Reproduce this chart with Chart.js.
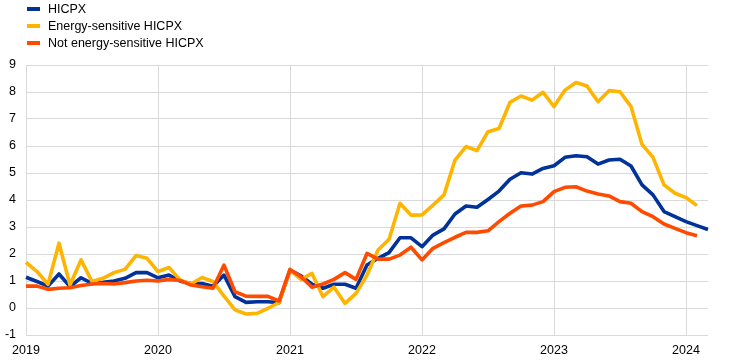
<!DOCTYPE html>
<html>
<head>
<meta charset="utf-8">
<script src="https://cdn.jsdelivr.net/npm/chart.js@4/dist/chart.umd.min.js"></script>
<style>
  html, body { margin: 0; padding: 0; background: #fff; }
  #wrap { position: relative; width: 744px; height: 362px; }
  #legend { position: absolute; left: 27px; top: 0px; font-family: "Liberation Sans", Arial, sans-serif; font-size: 12.5px; color: #000; }
  .item { display: flex; align-items: center; height: 17px; }
  .swatch { width: 13px; height: 4px; margin-right: 8px; }
</style>
</head>
<body>
<div id="wrap">
  <canvas id="c" width="744" height="362"></canvas>
  <div id="legend"></div>
</div>
<script>
const years = ['2019', '2020', '2021', '2022', '2023', '2024'];
const seriesNames = ['HICPX', 'Energy-sensitive HICPX', 'Not energy-sensitive HICPX'];
const seriesColors = ['#003299', '#FFB400', '#FF4B00'];

// Monthly, Jan 2019 - Mar 2024
const hicpx = [
  1.14, 0.98, 0.81, 1.26, 0.79, 1.12, 0.91, 0.95, 1.00, 1.10, 1.31, 1.31,
  1.12, 1.22, 1.00, 0.90, 0.91, 0.81, 1.22, 0.42, 0.21, 0.23, 0.23, 0.20,
  1.40, 1.19, 0.88, 0.73, 0.88, 0.88, 0.73, 1.59, 1.84, 2.05, 2.60, 2.60,
  2.27, 2.70, 2.93, 3.48, 3.78, 3.73, 4.02, 4.33, 4.77, 5.01, 4.96, 5.17,
  5.27, 5.58, 5.64, 5.60, 5.33, 5.48, 5.51, 5.26, 4.56, 4.19, 3.57, 3.38,
  3.20, 3.05, 2.91
];
const energySensitive = [
  1.69, 1.35, 0.88, 2.40, 0.85, 1.78, 0.98, 1.10, 1.31, 1.43, 1.94, 1.84,
  1.35, 1.50, 1.04, 0.89, 1.13, 0.98, 0.44, -0.07, -0.22, -0.20, -0.01, 0.20,
  1.40, 1.06, 1.28, 0.42, 0.77, 0.17, 0.54, 1.22, 2.15, 2.54, 3.88, 3.44,
  3.45, 3.81, 4.19, 5.48, 5.98, 5.83, 6.53, 6.65, 7.62, 7.85, 7.70, 7.99,
  7.46, 8.07, 8.35, 8.22, 7.64, 8.05, 8.01, 7.46, 6.06, 5.58, 4.56, 4.25,
  4.09, 3.79
];
const notEnergySensitive = [
  0.81, 0.81, 0.69, 0.73, 0.75, 0.83, 0.89, 0.91, 0.89, 0.94, 1.00, 1.03,
  1.00, 1.06, 1.02, 0.85, 0.79, 0.73, 1.59, 0.60, 0.44, 0.43, 0.43, 0.26,
  1.43, 1.16, 0.77, 0.89, 1.06, 1.31, 1.06, 2.02, 1.81, 1.81, 1.96, 2.25,
  1.78, 2.21, 2.42, 2.62, 2.80, 2.80, 2.86, 3.20, 3.51, 3.78, 3.81, 3.94,
  4.31, 4.47, 4.49, 4.33, 4.22, 4.15, 3.94, 3.88, 3.57, 3.38, 3.11, 2.95,
  2.79, 2.68
];

// category labels: one per month
const labels = [];
years.forEach(y => {
  for (let m = 1; m <= 12; m++) {
    if (y === '2024' && m > 3) break;
    labels.push(y + '-' + String(m).padStart(2, '0'));
  }
});

const allSeries = [hicpx, energySensitive, notEnergySensitive];
const drawOrder = [3, 2, 1];

// HTML legend
const leg = document.getElementById('legend');
seriesNames.forEach((n, i) => {
  const d = document.createElement('div'); d.className = 'item';
  const s = document.createElement('span'); s.className = 'swatch'; s.style.background = seriesColors[i];
  const t = document.createElement('span'); t.textContent = n;
  d.appendChild(s); d.appendChild(t); leg.appendChild(d);
});

const FONT = { family: '"Liberation Sans", Arial, sans-serif', size: 12.5 };

new Chart(document.getElementById('c'), {
  type: 'line',
  data: {
    labels: labels,
    datasets: seriesNames.map((n, i) => ({
      label: n,
      data: allSeries[i],
      borderColor: seriesColors[i],
      backgroundColor: seriesColors[i],
      borderWidth: 3.6,
      pointRadius: 0,
      tension: 0,
      fill: false,
      order: drawOrder[i],
      borderJoinStyle: 'round'
    }))
  },
  options: {
    responsive: false,
    animation: false,
    layout: { padding: { left: 0, right: 36, top: 65, bottom: 0 } },
    plugins: { legend: { display: false }, tooltip: { enabled: false } },
    scales: {
      x: {
        type: 'category',
        offset: false,
        border: { display: false },
        grid: {
          drawTicks: false,
          color: ctx => (ctx.index % 12 === 0 ? '#d9d9d9' : 'rgba(0,0,0,0)'),
          lineWidth: 1
        },
        ticks: {
          autoSkip: false,
          maxRotation: 0,
          minRotation: 0,
          padding: 8,
          color: '#000',
          font: FONT,
          callback: function (v, i) {
            const l = this.getLabelForValue(v);
            return l.endsWith('-01') ? l.slice(0, 4) : '';
          }
        },
        afterFit: s => { s.height = 27; }
      },
      y: {
        min: -1,
        max: 9,
        border: { display: false },
        grid: { drawTicks: false, color: '#d9d9d9', lineWidth: 1 },
        ticks: { stepSize: 1, padding: 10, color: '#000', font: FONT },
        afterFit: s => { s.width = 26; }
      }
    }
  }
});
</script>
</body>
</html>
